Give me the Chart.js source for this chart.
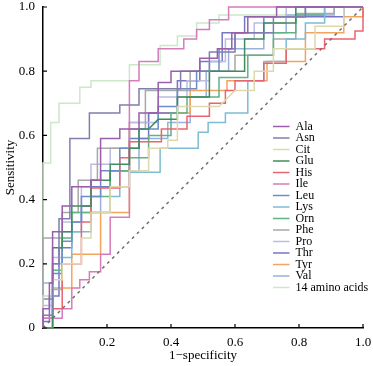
<!DOCTYPE html>
<html><head><meta charset="utf-8">
<script src="https://cdn.jsdelivr.net/npm/chart.js@4.4.1/dist/chart.umd.min.js"></script>
<style>html,body{margin:0;padding:0;background:#fff}#wrap{width:373px;height:366px}</style>
</head><body><div id="wrap"><canvas id="c" width="373" height="366"></canvas></div>
<script>
// ---- data: ROC points [1 - specificity, sensitivity] ----
const seriesNames = ['Ala','Asn','Cit','Glu','His','Ile','Leu','Lys','Orn','Phe','Pro','Thr','Tyr','Val','14 amino acids'];
const ala = [[0,0],[0,0.06],[0.02,0.06],[0.02,0.14],[0.03,0.14],[0.03,0.30],[0.06,0.30],[0.06,0.38],[0.09,0.38],[0.09,0.44],[0.15,0.44],[0.15,0.46],[0.18,0.46],[0.18,0.59],[0.24,0.59],[0.24,0.62],[0.30,0.62],[0.30,0.67],[0.36,0.67],[0.36,0.765],[0.40,0.765],[0.40,0.80],[0.49,0.80],[0.49,0.84],[0.545,0.84],[0.545,0.87],[0.59,0.87],[0.59,0.92],[0.64,0.92],[0.64,0.97],[0.73,0.97],[0.73,1],[1,1]];
const asn = [[0,0],[0,0.04],[0.03,0.04],[0.03,0.20],[0.05,0.20],[0.05,0.34],[0.084,0.34],[0.084,0.59],[0.145,0.59],[0.145,0.67],[0.24,0.67],[0.24,0.695],[0.30,0.695],[0.30,0.745],[0.43,0.745],[0.43,0.80],[0.52,0.80],[0.52,0.86],[0.60,0.86],[0.60,0.92],[0.72,0.92],[0.72,0.97],[0.82,0.97],[0.82,1],[1,1]];
const cit = [[0,0],[0,0.10],[0.03,0.10],[0.03,0.15],[0.06,0.15],[0.06,0.20],[0.12,0.20],[0.12,0.28],[0.15,0.28],[0.15,0.36],[0.21,0.36],[0.21,0.44],[0.27,0.44],[0.27,0.49],[0.33,0.49],[0.33,0.56],[0.39,0.56],[0.39,0.585],[0.42,0.585],[0.42,0.69],[0.55,0.69],[0.60,0.74],[0.66,0.74],[0.66,0.80],[0.72,0.80],[0.72,0.87],[0.85,0.87],[0.85,0.94],[0.94,0.94],[0.94,1],[1,1]];
const glu = [[0,0],[0.03,0],[0.03,0.25],[0.06,0.25],[0.06,0.30],[0.09,0.30],[0.09,0.38],[0.15,0.38],[0.15,0.46],[0.21,0.46],[0.21,0.51],[0.27,0.51],[0.27,0.56],[0.30,0.56],[0.30,0.62],[0.33,0.62],[0.36,0.65],[0.42,0.65],[0.42,0.72],[0.52,0.72],[0.52,0.80],[0.63,0.80],[0.63,0.90],[0.69,0.90],[0.69,0.95],[0.79,0.95],[0.79,1],[1,1]];
const his = [[0,0],[0.03,0],[0.03,0.06],[0.06,0.06],[0.06,0.20],[0.12,0.20],[0.12,0.33],[0.15,0.33],[0.15,0.436],[0.24,0.436],[0.24,0.53],[0.27,0.53],[0.27,0.58],[0.37,0.58],[0.37,0.62],[0.45,0.62],[0.45,0.66],[0.52,0.66],[0.52,0.70],[0.57,0.70],[0.57,0.74],[0.60,0.74],[0.60,0.77],[0.69,0.77],[0.69,0.825],[0.76,0.825],[0.76,0.87],[0.88,0.87],[0.88,0.90],[0.975,0.90],[0.975,0.925],[1,0.925],[1,1]];
const ile = [[0,0],[0,0.03],[0.06,0.03],[0.06,0.06],[0.09,0.06],[0.09,0.125],[0.115,0.125],[0.115,0.15],[0.145,0.15],[0.145,0.175],[0.18,0.175],[0.18,0.23],[0.21,0.23],[0.21,0.345],[0.27,0.345],[0.27,0.77],[0.30,0.77],[0.30,0.83],[0.36,0.83],[0.36,0.87],[0.44,0.87],[0.44,0.90],[0.48,0.90],[0.48,0.93],[0.52,0.93],[0.52,0.96],[0.58,0.96],[0.58,1],[1,1]];
const leu = [[0,0],[0,0.09],[0.03,0.09],[0.03,0.17],[0.06,0.17],[0.06,0.27],[0.09,0.27],[0.09,0.33],[0.12,0.33],[0.12,0.41],[0.18,0.41],[0.18,0.49],[0.24,0.49],[0.24,0.56],[0.30,0.56],[0.30,0.62],[0.36,0.62],[0.36,0.69],[0.42,0.69],[0.42,0.745],[0.48,0.745],[0.48,0.80],[0.55,0.80],[0.55,0.87],[0.60,0.87],[0.60,0.92],[0.69,0.92],[0.69,0.97],[0.82,0.97],[0.82,1],[1,1]];
const lys = [[0,0],[0.03,0],[0.03,0.12],[0.06,0.12],[0.06,0.22],[0.09,0.22],[0.09,0.30],[0.15,0.30],[0.15,0.36],[0.21,0.36],[0.21,0.41],[0.24,0.41],[0.24,0.44],[0.27,0.44],[0.27,0.485],[0.366,0.485],[0.366,0.56],[0.485,0.56],[0.485,0.61],[0.516,0.61],[0.516,0.64],[0.57,0.64],[0.57,0.67],[0.64,0.67],[0.64,0.77],[0.69,0.77],[0.69,0.83],[0.76,0.83],[0.76,0.90],[0.82,0.90],[0.82,0.95],[0.88,0.95],[0.88,1],[1,1]];
const orn = [[0,0],[0,0.03],[0.03,0.03],[0.03,0.18],[0.06,0.18],[0.06,0.28],[0.09,0.28],[0.09,0.36],[0.15,0.36],[0.15,0.41],[0.21,0.41],[0.21,0.49],[0.27,0.49],[0.27,0.53],[0.33,0.53],[0.33,0.60],[0.40,0.60],[0.40,0.67],[0.45,0.67],[0.45,0.72],[0.55,0.72],[0.55,0.78],[0.64,0.78],[0.64,0.85],[0.72,0.85],[0.72,0.92],[0.79,0.92],[0.79,0.975],[0.88,0.975],[0.88,1],[1,1]];
const phe = [[0,0],[0,0.28],[0.06,0.28],[0.06,0.36],[0.11,0.36],[0.11,0.46],[0.17,0.46],[0.17,0.56],[0.27,0.56],[0.27,0.62],[0.32,0.62],[0.32,0.74],[0.46,0.74],[0.46,0.80],[0.60,0.80],[0.60,0.85],[0.72,0.85],[0.72,0.90],[0.79,0.90],[0.79,0.98],[0.91,0.98],[0.91,1],[1,1]];
const pro = [[0,0],[0,0.07],[0.03,0.07],[0.03,0.22],[0.06,0.22],[0.06,0.33],[0.12,0.33],[0.12,0.44],[0.15,0.44],[0.15,0.51],[0.21,0.51],[0.21,0.56],[0.27,0.56],[0.27,0.64],[0.36,0.64],[0.36,0.72],[0.45,0.72],[0.45,0.77],[0.52,0.77],[0.52,0.83],[0.57,0.83],[0.57,0.90],[0.66,0.90],[0.66,0.95],[0.76,0.95],[0.76,1],[1,1]];
const thr = [[0,0],[0,0.02],[0.02,0.02],[0.02,0.10],[0.05,0.10],[0.05,0.25],[0.09,0.25],[0.09,0.33],[0.12,0.33],[0.12,0.38],[0.15,0.38],[0.15,0.44],[0.21,0.44],[0.21,0.49],[0.27,0.49],[0.27,0.59],[0.33,0.59],[0.33,0.67],[0.42,0.67],[0.42,0.77],[0.49,0.77],[0.49,0.83],[0.56,0.83],[0.56,0.92],[0.63,0.92],[0.63,0.97],[0.94,0.97],[0.94,1],[1,1]];
const tyr = [[0,0],[0.03,0],[0.03,0.125],[0.09,0.125],[0.09,0.23],[0.18,0.23],[0.18,0.36],[0.27,0.36],[0.27,0.64],[0.33,0.64],[0.33,0.67],[0.46,0.67],[0.46,0.74],[0.575,0.74],[0.575,0.77],[0.70,0.77],[0.70,0.83],[0.82,0.83],[0.82,0.92],[0.94,0.92],[0.94,0.97],[1,0.97],[1,1]];
const val = [[0,0],[0,0.14],[0.03,0.14],[0.03,0.20],[0.06,0.20],[0.06,0.30],[0.12,0.30],[0.12,0.36],[0.18,0.36],[0.18,0.44],[0.24,0.44],[0.24,0.49],[0.30,0.49],[0.30,0.59],[0.39,0.59],[0.39,0.64],[0.46,0.64],[0.46,0.72],[0.51,0.72],[0.51,0.80],[0.58,0.80],[0.58,0.87],[0.69,0.87],[0.69,0.92],[0.76,0.92],[0.76,0.975],[0.91,0.975],[0.91,1],[1,1]];
const all14 = [[0,0],[0,0.514],[0.024,0.514],[0.024,0.64],[0.05,0.64],[0.05,0.70],[0.115,0.70],[0.115,0.75],[0.15,0.75],[0.15,0.77],[0.27,0.77],[0.27,0.82],[0.366,0.82],[0.366,0.88],[0.42,0.88],[0.42,0.91],[0.48,0.91],[0.48,0.95],[0.55,0.95],[0.55,0.975],[0.79,0.975],[0.79,1],[1,1]];
const reference = [[0,0],[1,1]];
const xTickValues = [0.2,0.4,0.6,0.8,1.0];
const yTickValues = [0,0.2,0.4,0.6,0.8,1.0];
const xTitle = '1\u2212specificity';
const yTitle = 'Sensitivity';

// ---- styles ----
const seriesData = [ala,asn,cit,glu,his,ile,leu,lys,orn,phe,pro,thr,tyr,val,all14];
const seriesColors = ['#9a5eaa','#7f7fb0','#ddd9ad','#3f8c5f','#e9646e','#d57cbb','#6c8dca','#7dbcd4','#5fb384','#a8a8a8','#bcbce2','#7676c6','#f2a45f','#99b1dc','#cde8c9'];
const serif = 'Liberation Serif, Times New Roman, serif';

const datasets = seriesNames.map((name, i) => ({
  label: name,
  data: seriesData[i].map(p => ({x: p[0], y: p[1]})),
  borderColor: seriesColors[i],
  backgroundColor: seriesColors[i],
  borderWidth: 1.5,
  showLine: true,
  pointRadius: 0,
  pointHitRadius: 0,
  tension: 0,
  clip: false
}));
datasets.push({
  label: 'diag',
  data: reference.map(p => ({x: p[0], y: p[1]})),
  borderColor: '#707070',
  borderWidth: 1.5,
  borderDash: [3, 4],
  showLine: true,
  pointRadius: 0,
  pointHitRadius: 0,
  clip: false,
  order: -1
});

const inwardTicks = {
  id: 'inwardTicks',
  afterDraw(chart) {
    const ctx = chart.ctx, xs = chart.scales.x, ys = chart.scales.y;
    ctx.save();
    ctx.strokeStyle = '#000';
    ctx.lineWidth = 1.2;
    ctx.beginPath();
    xs.ticks.forEach(t => { const p = xs.getPixelForValue(t.value); ctx.moveTo(p, ys.bottom); ctx.lineTo(p, ys.bottom - 4); });
    ys.ticks.forEach(t => { const p = ys.getPixelForValue(t.value); ctx.moveTo(xs.left, p); ctx.lineTo(xs.left + 4, p); });
    ctx.stroke();
    ctx.restore();
  }
};
const legendPlace = {
  id: 'legendPlace',
  afterLayout(chart) {
    const lg = chart.legend;
    if (!lg) return;
    lg.left = 273; lg.top = 121; lg.right = chart.width; lg.bottom = chart.height;
    lg.width = lg.right - lg.left; lg.height = lg.bottom - lg.top;
  }
};

new Chart(document.getElementById('c'), {
  type: 'scatter',
  data: { datasets },
  plugins: [inwardTicks, legendPlace],
  options: {
    responsive: false,
    animation: false,
    devicePixelRatio: 1,
    layout: { autoPadding: false, padding: { top: 7, right: 10, left: 0, bottom: 0 } },
    plugins: {
      tooltip: { enabled: false },
      legend: {
        position: 'chartArea',
        align: 'start',
        labels: {
          boxWidth: 17, boxHeight: 1.5, padding: -0.5, color: '#000',
          font: { family: serif, size: 12 },
          generateLabels(chart) {
            return chart.data.datasets.slice(0, seriesNames.length).map((d, i) => ({
              text: d.label, fillStyle: d.borderColor, strokeStyle: d.borderColor,
              lineWidth: 0, hidden: false, datasetIndex: i, fontColor: '#000'
            }));
          }
        }
      }
    },
    scales: {
      x: {
        type: 'linear', min: 0, max: 1,
        afterFit(s) { s.height = 38; s.paddingLeft = 0; s.paddingRight = 0; },
        afterBuildTicks(s) { s.ticks = xTickValues.map(v => ({ value: v })); },
        grid: { display: false, drawTicks: false },
        border: { display: true, color: '#000', width: 1.5 },
        ticks: { padding: 7, color: '#000', maxRotation: 0, autoSkip: false, font: { family: serif, size: 13 },
                 callback: v => v.toFixed(1) },
        title: { display: true, text: xTitle, color: '#000', font: { family: serif, size: 13 }, padding: { top: 0, bottom: 3 } }
      },
      y: {
        type: 'linear', min: 0, max: 1,
        afterFit(s) { s.width = 43; s.paddingTop = 0; s.paddingBottom = 0; },
        afterBuildTicks(s) { s.ticks = yTickValues.map(v => ({ value: v })); },
        grid: { display: false, drawTicks: false },
        border: { display: true, color: '#000', width: 1.5 },
        ticks: { padding: 8, color: '#000', autoSkip: false, font: { family: serif, size: 13 },
                 callback: v => (v === 0 ? '0' : v.toFixed(1)) },
        title: { display: true, text: yTitle, color: '#000', font: { family: serif, size: 13 }, padding: { top: 3, bottom: 0 } }
      }
    }
  }
});
</script>
</body></html>
